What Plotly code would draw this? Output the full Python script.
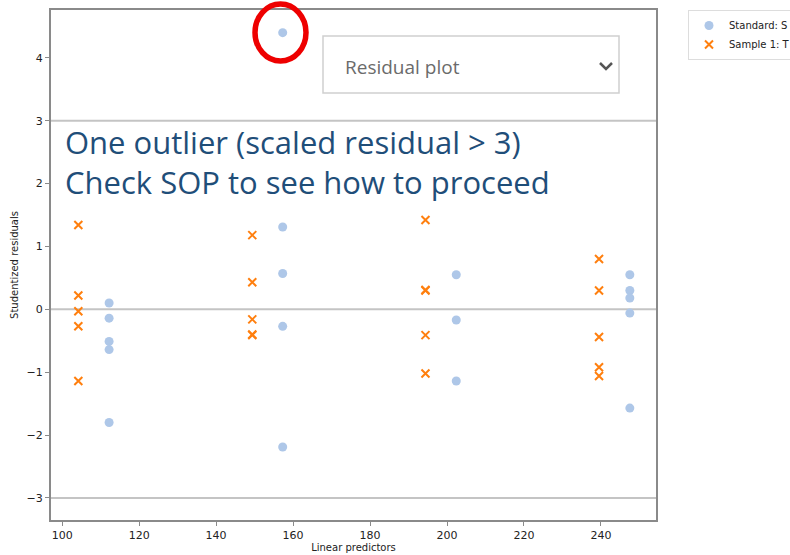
import plotly.graph_objects as go

# Studentized residuals against linear predictors, one series per group
std_x = [112.2] * 5 + [157.3] * 5 + [202.4] * 3 + [247.5] * 5
std_y = [0.10, -0.14, -0.51, -0.64, -1.80,
         4.40, 1.31, 0.57, -0.27, -2.19,
         0.55, -0.17, -1.14,
         0.55, 0.30, 0.18, -0.06, -1.57]

smp_x = [104.2] * 5 + [149.4] * 5 + [194.4] * 5 + [239.5] * 5
smp_y = [1.34, 0.22, -0.03, -0.27, -1.14,
         1.18, 0.43, -0.16, -0.40, -0.41,
         1.42, 0.30, 0.31, -0.41, -1.02,
         0.80, 0.30, -0.44, -0.92, -1.06]

series_names = ["Standard: S", "Sample 1: T"]
ref_lines = [3, 0, -3]
y_ticks = [-3, -2, -1, 0, 1, 2, 3, 4]
x_ticks = [100, 120, 140, 160, 180, 200, 220, 240]

W, H = 790, 555
ML, MR, MT, MB = 51, 134, 10, 35
PW, PH = W - ML - MR, H - MT - MB


def px(x):
    return (x - ML) / PW


def py(y):
    return (H - MB - y) / PH


fig = go.Figure()
fig.add_trace(go.Scatter(
    x=std_x, y=std_y, mode="markers", name=series_names[0],
    marker=dict(symbol="circle", size=9, color="#aec7e8"),
))
fig.add_trace(go.Scatter(
    x=smp_x, y=smp_y, mode="markers", name=series_names[1],
    marker=dict(symbol="x-thin", size=8, color="#ff7f0e",
                line=dict(width=2, color="#ff7f0e")),
))

shapes = []
for v in ref_lines:
    shapes.append(dict(type="line", xref="paper", yref="y", x0=0, x1=1,
                       y0=v, y1=v, layer="below",
                       line=dict(color="#c4c4c4", width=2)))

# Outlier highlight
shapes.append(dict(type="circle", xref="paper", yref="paper",
                   x0=px(255), x1=px(306), y0=py(61), y1=py(4),
                   line=dict(color="#ee0000", width=5.5)))

# Dropdown box with chevron
shapes.append(dict(type="rect", xref="paper", yref="paper",
                   x0=px(323), x1=px(619), y0=py(93), y1=py(36),
                   fillcolor="white", line=dict(color="#d0d0d0", width=1.5)))
shapes.append(dict(type="path", xref="paper", yref="paper",
                   path=f"M {px(600)} {py(63)} L {px(606)} {py(69)} L {px(612)} {py(63)}",
                   line=dict(color="#555555", width=2.5)))

annotations = [
    dict(text="Residual plot", xref="paper", yref="paper",
         x=px(343), y=py(67), xanchor="left", yanchor="middle",
         showarrow=False, font=dict(family="Open Sans", size=19, color="#6b6b6b")),
    dict(text="One outlier (scaled residual > 3)<br>Check SOP to see how to proceed",
         xref="paper", yref="paper", x=px(63), y=py(119),
         xanchor="left", yanchor="top", align="left", showarrow=False,
         font=dict(family="Open Sans", size=31, color="#1f4e79")),
]

fig.update_layout(
    width=W, height=H,
    margin=dict(l=ML, r=MR, t=MT, b=MB, autoexpand=False),
    paper_bgcolor="white", plot_bgcolor="white",
    shapes=shapes, annotations=annotations,
    legend=dict(x=px(688), y=1, xanchor="left", yanchor="top",
                bordercolor="#dddddd", borderwidth=1,
                font=dict(family="DejaVu Sans", size=10, color="#222"),
                itemwidth=30, tracegroupgap=0),
    font=dict(family="DejaVu Sans", color="#222"),
)
fig.update_xaxes(
    range=[97.1, 254.3], tickvals=x_ticks, showgrid=False, zeroline=False,
    automargin=False,
    showline=True, linecolor="#8a8a8a", linewidth=2, mirror=True,
    ticks="outside", ticklen=4, tickcolor="#8a8a8a",
    tickfont=dict(size=11, color="#222"),
    title=dict(text="Linear predictors", font=dict(size=10), standoff=2),
)
fig.update_yaxes(
    range=[-3.35, 4.76], tickvals=y_ticks,
    ticktext=[str(v).replace("-", "\u2212") for v in y_ticks],
    showgrid=False, zeroline=False, automargin=False,
    showline=True, linecolor="#8a8a8a", linewidth=2, mirror=True,
    ticks="outside", ticklen=4, tickcolor="#8a8a8a",
    tickfont=dict(size=11, color="#222"),
    title=dict(text="Studentized residuals", font=dict(size=10), standoff=6),
)

fig.write_html("out.html")
